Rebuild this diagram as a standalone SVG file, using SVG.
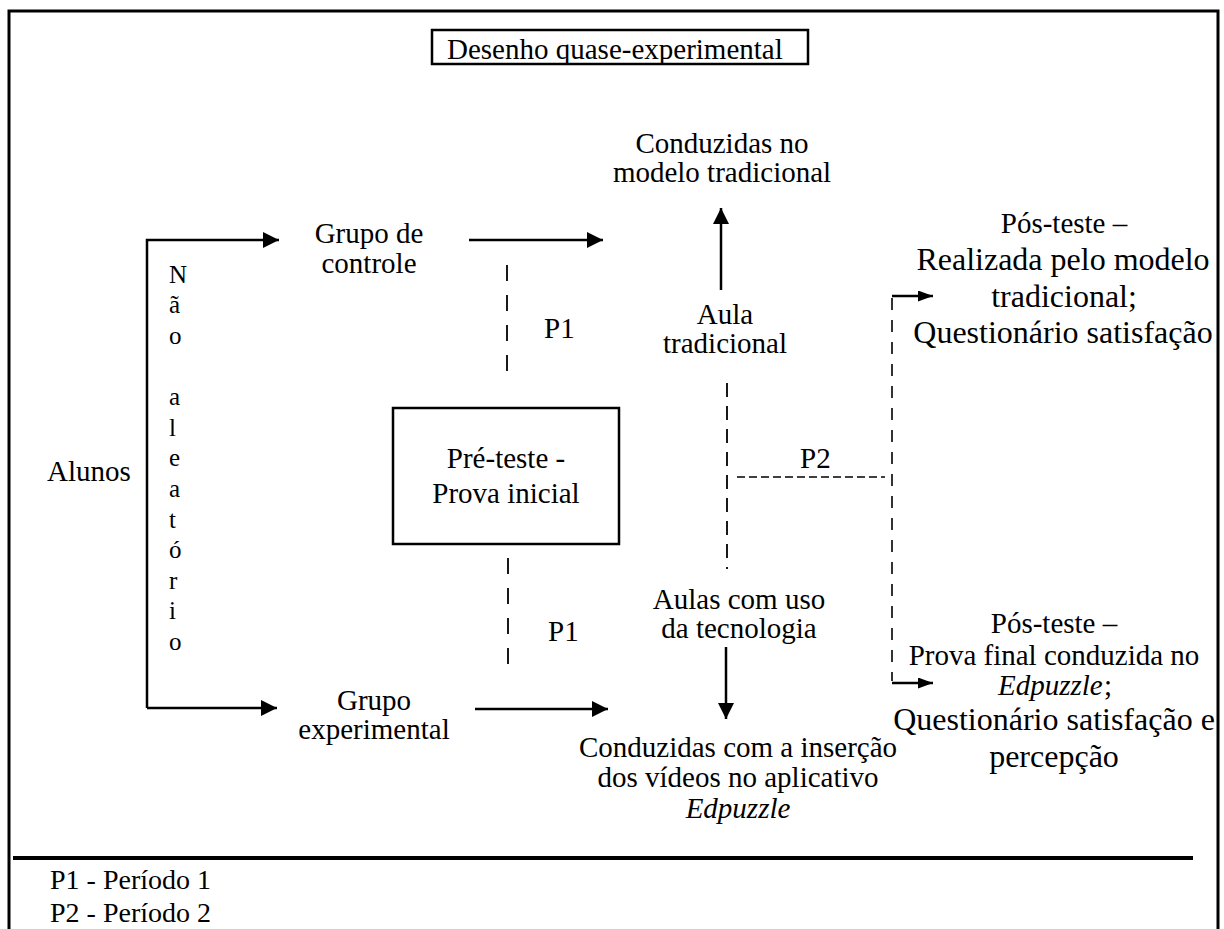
<svg xmlns="http://www.w3.org/2000/svg" width="1224" height="929" viewBox="0 0 1224 929" font-family="'Liberation Serif', Tinos, 'Times New Roman', 'DejaVu Serif', serif">
<style>
text{font-family:"Liberation Serif",Tinos,"Times New Roman","DejaVu Serif",serif;font-size:29px;fill:#000}
.c{text-anchor:middle}
.b{font-size:32px}
.v{font-size:25px}
.lg{font-size:28px}
.it{font-style:italic}
.ln{fill:none;stroke:#000;stroke-width:2.5}
.d1{fill:none;stroke:#000;stroke-width:1.8;stroke-dasharray:16 14}
.d2{fill:none;stroke:#000;stroke-width:1.8;stroke-dasharray:14 9}
.d3{fill:none;stroke:#000;stroke-width:1.6;stroke-dasharray:8 4}
.d4{fill:none;stroke:#000;stroke-width:1.6;stroke-dasharray:12 10}
.box{fill:none;stroke:#000;stroke-width:2.5}
</style>
<defs>
<marker id="ah" viewBox="0 0 16 16" refX="16" refY="8" markerWidth="16" markerHeight="16" markerUnits="userSpaceOnUse" orient="auto"><path d="M0,0 L16,8 L0,16 z" fill="#000"/></marker>
<marker id="as" viewBox="0 0 15 11" refX="15" refY="5.5" markerWidth="15" markerHeight="11" markerUnits="userSpaceOnUse" orient="auto"><path d="M0,0 L15,5.5 L0,11 z" fill="#000"/></marker>
</defs>
<g id="frame">
<path d="M9,929 V11 H1218 V929" fill="none" stroke="#000" stroke-width="3"/>
<path d="M13,858 H1193" fill="none" stroke="#000" stroke-width="4"/>
</g>
<g id="title">
<rect class="box" x="432" y="30" width="376" height="34"/>
<text x="447" y="59">Desenho quase-experimental</text>
</g>
<g id="connectors">
<path class="ln" d="M147,708 V240 H279" marker-end="url(#ah)"/>
<path class="ln" d="M147,708 H277" marker-end="url(#ah)"/>
<path class="ln" d="M469,240 H603" marker-end="url(#ah)"/>
<path class="ln" d="M475,709 H608" marker-end="url(#ah)"/>
<path class="ln" d="M721,290 V208" marker-end="url(#ah)"/>
<path class="ln" d="M726,647 V719" marker-end="url(#ah)"/>
<path class="d1" d="M507,265 V374"/>
<path class="d1" d="M508,558 V670"/>
<path class="d2" d="M727,383 V569"/>
<path class="d3" d="M737,477 H885"/>
<path class="d4" d="M892,298 V681"/>
<path class="ln" d="M892,296 H933" marker-end="url(#as)"/>
<path class="ln" d="M892,683 H933" marker-end="url(#as)"/>
</g>
<g id="alunos"><text x="47" y="481">Alunos</text></g>
<g id="nao-aleatorio">
<text class="v" x="169" y="283">N</text>
<text class="v" x="169" y="313">ã</text>
<text class="v" x="169" y="344">o</text>
<text class="v" x="169" y="405">a</text>
<text class="v" x="169" y="436">l</text>
<text class="v" x="169" y="466">e</text>
<text class="v" x="169" y="497">a</text>
<text class="v" x="169" y="528">t</text>
<text class="v" x="169" y="558">ó</text>
<text class="v" x="169" y="589">r</text>
<text class="v" x="169" y="619">i</text>
<text class="v" x="169" y="650">o</text>
</g>
<g id="grupo-controle">
<text class="c" x="369" y="243">Grupo de</text>
<text class="c" x="369" y="273">controle</text>
</g>
<g id="grupo-experimental">
<text class="c" x="374" y="710">Grupo</text>
<text class="c" x="374" y="739">experimental</text>
</g>
<g id="pre-teste">
<rect class="box" x="393" y="408" width="226" height="136"/>
<text class="c" x="506" y="468">Pré-teste -</text>
<text class="c" x="506" y="503">Prova inicial</text>
</g>
<g id="p1-labels">
<text x="544" y="338">P1</text>
<text x="548" y="641">P1</text>
</g>
<g id="p2-label"><text x="800" y="468">P2</text></g>
<g id="conduzidas-tradicional">
<text class="c" x="722" y="153">Conduzidas no</text>
<text class="c" x="722" y="182">modelo tradicional</text>
</g>
<g id="aula-tradicional">
<text class="c" x="725" y="324">Aula</text>
<text class="c" x="725" y="353">tradicional</text>
</g>
<g id="aulas-tecnologia">
<text class="c" x="739" y="609">Aulas com uso</text>
<text class="c" x="739" y="638">da tecnologia</text>
</g>
<g id="conduzidas-edpuzzle">
<text class="c" x="738" y="757">Conduzidas com a inserção</text>
<text class="c" x="738" y="787">dos vídeos no aplicativo</text>
<text class="c it" x="738" y="818">Edpuzzle</text>
</g>
<g id="pos-teste-controle">
<text class="c" x="1064" y="233">Pós-teste –</text>
<text class="c b" x="1063" y="270">Realizada pelo modelo</text>
<text class="c b" x="1064" y="307">tradicional;</text>
<text class="c b" x="1063" y="343">Questionário satisfação</text>
</g>
<g id="pos-teste-experimental">
<text class="c" x="1054" y="633">Pós-teste –</text>
<text class="c" x="1054" y="665">Prova final conduzida no</text>
<text class="it" x="998" y="695">Edpuzzle</text>
<text x="1104" y="695">;</text>
<text class="c b" x="1054" y="730">Questionário satisfação e</text>
<text class="c b" x="1054" y="767">percepção</text>
</g>
<g id="legend">
<text class="lg" x="50" y="889">P1 - Período 1</text>
<text class="lg" x="50" y="922">P2 - Período 2</text>
</g>
</svg>
